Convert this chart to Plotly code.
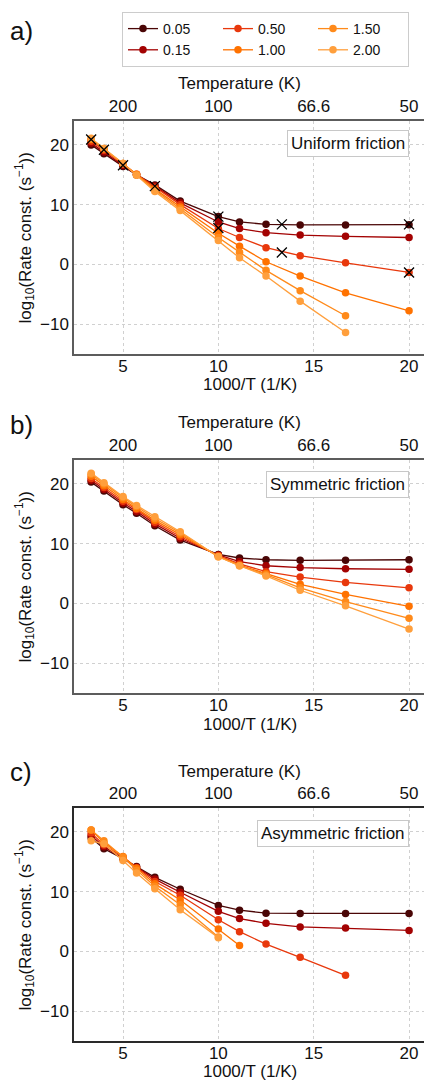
import plotly.graph_objects as go

# ---------------- data ----------------
inv_T = [3.33, 4.0, 5.0, 5.71, 6.67, 8.0, 10.0, 11.11, 12.5, 14.29, 16.67, 20.0]
friction_labels = ["0.05", "0.15", "0.50", "1.00", "1.50", "2.00"]
legend_ranks = [1, 4, 2, 5, 3, 6]
colors = ["#4a0606", "#a30202", "#e8380c", "#ff7200", "#ff8a1a", "#ff9f3c"]

uniform = [
    [20.0, 18.5, 16.4, 15.0, 13.3, 10.6, 8.0, 7.1, 6.7, 6.6, 6.6, 6.65],
    [20.3, 18.8, 16.6, 15.0, 13.1, 10.3, 7.1, 6.0, 5.3, 4.9, 4.7, 4.5],
    [20.6, 19.1, 16.8, 15.1, 12.9, 10.0, 6.0, 4.5, 2.8, 1.45, 0.27, -1.35],
    [20.9, 19.3, 16.9, 15.1, 12.6, 9.6, 5.2, 3.05, 0.44, -1.96, -4.75, -7.77],
    [21.0, 19.4, 16.9, 15.0, 12.4, 9.3, 4.5, 2.05, -1.0, -4.4, -8.6, None],
    [21.1, 19.4, 16.9, 14.9, 12.2, 9.0, 4.0, 1.1, -1.96, -6.15, -11.4, None],
]
symmetric = [
    [20.3, 18.8, 16.5, 15.1, 13.0, 10.6, 8.2, 7.6, 7.3, 7.2, 7.2, 7.3],
    [20.6, 19.1, 16.8, 15.4, 13.3, 10.9, 8.1, 7.0, 6.3, 6.0, 5.8, 5.7],
    [20.9, 19.4, 17.1, 15.7, 13.6, 11.2, 8.0, 6.6, 5.3, 4.4, 3.5, 2.6],
    [21.3, 19.7, 17.4, 15.9, 13.9, 11.5, 7.9, 6.4, 5.0, 3.2, 1.5, -0.5],
    [21.6, 20.0, 17.7, 16.2, 14.2, 11.8, 7.8, 6.3, 4.8, 2.6, 0.3, -2.5],
    [21.8, 20.2, 17.9, 16.4, 14.5, 12.0, 7.8, 6.3, 4.6, 2.2, -0.4, -4.3],
]
asymmetric = [
    [19.0, 17.2, 15.5, 14.2, 12.4, 10.4, 7.7, 6.9, 6.4, 6.35, 6.35, 6.35],
    [19.4, 17.5, 15.6, 14.1, 12.1, 9.9, 6.7, 5.5, 4.7, 4.1, 3.9, 3.5],
    [19.8, 17.8, 15.8, 14.0, 11.7, 9.4, 5.3, 3.3, 1.23, -1.0, -4.0, None],
    [20.3, 18.2, 15.9, 13.9, 11.3, 8.6, 3.75, 1.0, None, None, None, None],
    [20.3, 18.5, 15.8, 13.6, 10.9, 7.8, 2.4, None, None, None, None, None],
    [18.5, 18.0, 15.2, 13.1, 10.5, 6.95, 2.3, None, None, None, None, None],
]

cross_x = [3.33, 4.0, 5.0, 6.67, 10.0, 10.0, 13.33, 13.33, 20.0, 20.0]
cross_y = [20.9, 19.2, 16.6, 13.1, 8.0, 6.1, 6.7, 2.0, 6.7, -1.35]

x_ticks = [5, 10, 15, 20]
temp_tick_labels = ["200", "100", "66.6", "50"]
y_ticks = [-10, 0, 10, 20]

panel_names = ["Uniform friction", "Symmetric friction", "Asymmetric friction"]
panel_letters = ["a)", "b)", "c)"]
panels = [uniform, symmetric, asymmetric]

# ---------------- layout geometry ----------------
W, H = 424, 1080
ML = 74
PW = W - ML
px_per_unit = 19.07
x_left = 5 - (123 - ML) / px_per_unit
x_right = x_left + PW / px_per_unit
y_range = [-15, 24]
panel_px = [(121, 354), (460, 693), (808, 1041)]


def px_x(page_x):
    return (page_x - ML) / PW


def px_y(page_y):
    return 1 - page_y / H


FONT = "Liberation Sans, Arial, sans-serif"
TXT = "#111111"

fig = go.Figure()

for p, data in enumerate(panels):
    xa = "x" if p == 0 else f"x{p + 1}"
    ya = "y" if p == 0 else f"y{p + 1}"
    for i, vals in enumerate(data):
        fig.add_trace(go.Scatter(
            x=inv_T, y=vals, mode="lines+markers",
            name=friction_labels[i],
            legendgroup=friction_labels[i],
            legendrank=legend_ranks[i],
            showlegend=(p == 0),
            line=dict(color=colors[i], width=1.3),
            marker=dict(color=colors[i], size=7.5, symbol="circle"),
            connectgaps=False,
            xaxis=xa, yaxis=ya, hoverinfo="skip",
        ))
    if p == 0:
        fig.add_trace(go.Scatter(
            x=cross_x, y=cross_y, mode="markers", showlegend=False,
            marker=dict(symbol="x-thin", size=10, color="black",
                        line=dict(width=1.3, color="black")),
            xaxis=xa, yaxis=ya, hoverinfo="skip",
        ))
    # invisible helper trace so the top (temperature) axis is drawn
    fig.add_trace(go.Scatter(
        x=inv_T, y=data[0], mode="markers", showlegend=False, opacity=0,
        xaxis=f"x{p + 4}", yaxis=ya, hoverinfo="skip",
    ))

spine = ["#5c5c5c", "#5c5c5c", "#2a2a2a"]
layout = dict(
    width=W, height=H,
    margin=dict(l=ML, r=0, t=0, b=0),
    paper_bgcolor="white", plot_bgcolor="white",
    font=dict(family=FONT, size=17, color=TXT),
    showlegend=True,
    hovermode=False,
    legend=dict(
        orientation="h", x=px_x(122), xanchor="left",
        y=px_y(12), yanchor="top",
        entrywidth=50, entrywidthmode="pixels",
        bordercolor="#cccccc", borderwidth=1, bgcolor="white",
        font=dict(family=FONT, size=14, color=TXT),
        itemwidth=30, traceorder="normal",
    ),
)

annotations = []
for p in range(3):
    top, bot = panel_px[p]
    dom = [px_y(bot), px_y(top)]
    sfx = "" if p == 0 else str(p + 1)
    common = dict(ticks="", ticklen=0, zeroline=False, showline=True,
                  linecolor=spine[p], linewidth=1.5, ticklabeloverflow="allow",
                  tickfont=dict(size=17, family=FONT, color=TXT))
    layout[f"xaxis{sfx}"] = dict(
        range=[x_left, x_right], anchor=f"y{sfx}", tickvals=x_ticks,
        ticklabelstandoff=-4,
        showgrid=True, gridcolor="#d0d0d0", griddash="dot", gridwidth=1, **common)
    layout[f"yaxis{sfx}"] = dict(
        range=y_range, domain=dom, anchor=f"x{sfx}", tickvals=y_ticks,
        showgrid=True, gridcolor="#d0d0d0", griddash="dot", gridwidth=1, **common)
    layout[f"xaxis{p + 4}"] = dict(
        range=[x_left, x_right], overlaying=f"x{sfx}", anchor=f"y{sfx}", side="top",
        tickvals=x_ticks, ticktext=temp_tick_labels, showgrid=False, **common)
    # axis titles
    title_gap = [31, 31, 30][p]
    annotations.append(dict(
        text="1000/T (1/K)", xref="paper", yref="paper",
        x=px_x(250), y=px_y(bot + title_gap), xanchor="center", yanchor="middle",
        showarrow=False, font=dict(size=17, family=FONT, color=TXT)))
    annotations.append(dict(
        text="Temperature (K)", xref="paper", yref="paper",
        x=px_x(239), y=px_y(top - 37), xanchor="center", yanchor="middle",
        showarrow=False, font=dict(size=17, family=FONT, color=TXT)))
    annotations.append(dict(
        text="log<sub>10</sub>(Rate const. (s<sup>−1</sup>))", xref="paper", yref="paper",
        x=px_x(25), y=px_y((top + bot) / 2), xanchor="center", yanchor="middle",
        textangle=-90, showarrow=False, font=dict(size=17, family=FONT, color=TXT)))
    # panel letter
    letter_y = [31, 425, 772][p]
    annotations.append(dict(
        text=panel_letters[p], xref="paper", yref="paper",
        x=px_x(8), y=px_y(letter_y), xanchor="left", yanchor="middle",
        showarrow=False, font=dict(size=26, family=FONT, color=TXT)))
    # panel name box
    box_center = [144, 484.5, 833][p]
    annotations.append(dict(
        text=panel_names[p], xref="paper", yref="paper",
        x=px_x(409), y=px_y(box_center), xanchor="right", yanchor="middle",
        showarrow=False, bgcolor="white", bordercolor="#c8c8c8", borderwidth=1,
        borderpad=3, font=dict(size=17, family=FONT, color=TXT)))

layout["annotations"] = annotations
fig.update_layout(**layout)
fig.write_html(
    "out.html",
    config={"displayModeBar": False},
    post_script="document.body.style.margin='0';document.body.style.padding='0';"
                "document.body.style.overflow='hidden';",
)
